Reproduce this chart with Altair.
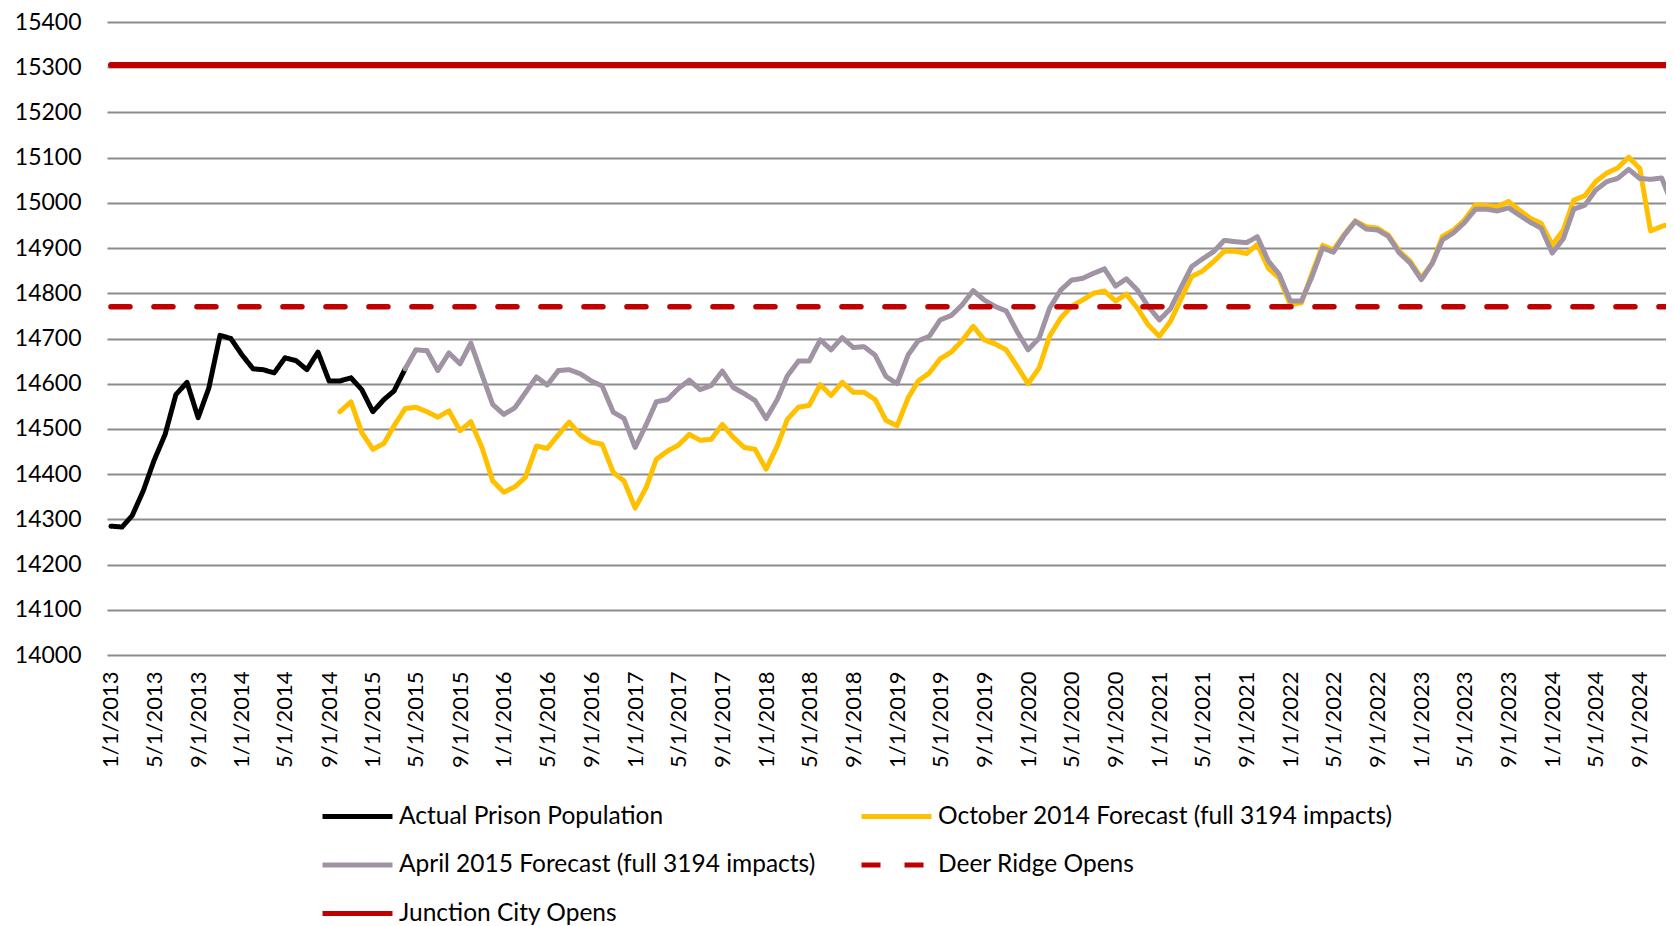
import altair as alt
import pandas as pd

# Monthly categories 1/1/2013 .. 12/1/2024
months = [f"{y}-{m:02d}-01" for y in range(2013, 2025) for m in range(1, 13)]

ACTUAL = "Actual Prison Population"
OCT = "October 2014 Forecast (full 3194 impacts)"
APR = "April 2015 Forecast (full 3194 impacts)"
DEER = "Deer Ridge Opens"
JUNC = "Junction City Opens"

# drawing order (later on top)
draw_order = [ACTUAL, OCT, APR, DEER, JUNC]
# legend order (legend fills column by column: 3 rows x 2 columns)
legend_order = [ACTUAL, APR, JUNC, OCT, DEER]
colors = {ACTUAL: "#000000", OCT: "#FFC000", APR: "#A093A3", DEER: "#C00000", JUNC: "#C00000"}
dashes = {ACTUAL: [1, 0], OCT: [1, 0], APR: [1, 0], DEER: [19, 24], JUNC: [1, 0]}
widths = {ACTUAL: 5, OCT: 5, APR: 5, DEER: 5.5, JUNC: 6}

# Actual: 1/2013 .. 4/2015
actual = [14285, 14283, 14308, 14363, 14430, 14488, 14576, 14603, 14525, 14591,
          14707, 14700, 14664, 14633, 14631, 14624, 14657, 14651, 14631, 14670,
          14606, 14606, 14613, 14587, 14538, 14565, 14584, 14633]
actual_start = 0

# October 2014 forecast: 10/2014 .. 12/2024
oct2014 = [14538, 14560, 14492, 14455, 14468, 14507, 14545, 14548, 14538, 14526,
           14540, 14496, 14516, 14459, 14385, 14360, 14372, 14393, 14462, 14457,
           14487, 14515, 14487, 14471, 14466, 14404, 14385, 14325, 14371, 14433,
           14451, 14464, 14488, 14475, 14477, 14510, 14482, 14459, 14455, 14411,
           14462, 14521, 14548, 14552, 14598, 14574, 14603, 14581, 14581, 14565,
           14519, 14507, 14569, 14606, 14624, 14655, 14670, 14695, 14727, 14697,
           14688, 14675, 14639, 14600, 14635, 14705, 14745, 14771, 14785, 14800,
           14805, 14783, 14798, 14767, 14730, 14705, 14738, 14785, 14837, 14849,
           14870, 14893, 14893, 14888, 14908, 14855, 14834, 14775, 14779, 14841,
           14906, 14896, 14931, 14960, 14947, 14944, 14929, 14893, 14871, 14834,
           14867, 14926, 14940, 14962, 14995, 14994, 14992, 15003, 14984, 14966,
           14955, 14907, 14940, 15006, 15016, 15047, 15066, 15077, 15101, 15076,
           14938, 14948, 14955]
oct2014_start = 21

# April 2015 forecast: 4/2015 .. 12/2024
apr2015 = [14633, 14675, 14673, 14629, 14668, 14644, 14690, 14620, 14554, 14532,
           14547, 14580, 14615, 14597, 14629, 14631, 14622, 14606, 14595, 14537,
           14523, 14459, 14510, 14560, 14565, 14589, 14608, 14587, 14596, 14628,
           14592, 14578, 14563, 14523, 14565, 14617, 14650, 14650, 14697, 14675,
           14702, 14680, 14682, 14663, 14616, 14600, 14664, 14695, 14705, 14741,
           14751, 14774, 14806, 14785, 14771, 14761, 14716, 14675, 14701, 14767,
           14807, 14829, 14833, 14844, 14854, 14816, 14832, 14807, 14771, 14741,
           14766, 14811, 14859, 14876, 14892, 14917, 14914, 14912, 14925, 14871,
           14842, 14783, 14783, 14834, 14900, 14891, 14929, 14959, 14942, 14940,
           14926, 14889, 14867, 14830, 14867, 14918, 14934, 14956, 14986, 14986,
           14982, 14989, 14973, 14957, 14944, 14889, 14921, 14986, 14995, 15028,
           15047, 15054, 15074, 15054, 15052, 15055, 14995]
apr2015_start = 27

deer_ridge_level = 14770
junction_city_level = 15305

y_ticks = list(range(14000, 15401, 100))
x_tick_months = months[::4]

rows = []
def add(name, start, values):
    for k, v in enumerate(values):
        rows.append({"date": months[start + k], "series": name, "value": v})

add(ACTUAL, actual_start, actual)
add(OCT, oct2014_start, oct2014)
add(APR, apr2015_start, apr2015)
add(DEER, 0, [deer_ridge_level] * len(months))
add(JUNC, 0, [junction_city_level] * len(months))
df = pd.DataFrame(rows)

FONT = "Lato"

def dt(s):
    y, m, d = (int(p) for p in s.split("-"))
    return alt.DateTime(year=y, month=m, date=d, utc=True)

legend = alt.Legend(
    title=None, orient="none", legendX=236, legendY=780, columns=2,
    symbolType="M-3,0H3", symbolSize=544, symbolStrokeWidth=5,
    labelFont=FONT, labelFontSize=24.5, labelColor="#000000", labelOffset=27,
    labelLimit=1000, rowPadding=22.5, columnPadding=35, gridAlign="each",
)

x_enc = alt.X(
    "date:T",
    scale=alt.Scale(type="utc", domain=[dt("2012-12-21"), dt("2024-11-13")]),
    axis=alt.Axis(
        values=[dt(m) for m in x_tick_months],
        labelExpr="utcFormat(datum.value, '%-m/%-d/%Y')",
        labelAngle=270, labelFont=FONT, labelFontSize=22, labelColor="#000000",
        labelPadding=16, labelOverlap=False, grid=False, ticks=False,
        domain=False, title=None,
    ),
)
y_enc = alt.Y(
    "value:Q",
    scale=alt.Scale(domain=[14000, 15400], nice=False, zero=False),
    axis=alt.Axis(
        values=y_ticks, format="d", grid=True, gridColor="#8C8C8C", gridWidth=2,
        ticks=False, domain=False, labelFont=FONT, labelFontSize=23,
        labelColor="#000000", labelPadding=26, title=None,
    ),
)
color_enc = alt.Color("series:N",
                      scale=alt.Scale(domain=legend_order,
                                      range=[colors[n] for n in legend_order]),
                      legend=legend)
dash_enc = alt.StrokeDash("series:N",
                          scale=alt.Scale(domain=legend_order,
                                          range=[dashes[n] for n in legend_order]),
                          legend=legend)

layers = []
for name in draw_order:
    layers.append(
        alt.Chart(df)
        .transform_filter(alt.datum.series == name)
        .mark_line(strokeWidth=widths[name], strokeCap="round", strokeJoin="round", clip=True)
        .encode(x=x_enc, y=y_enc, color=color_enc, strokeDash=dash_enc)
    )

chart = (
    alt.layer(*layers)
    .properties(
        width=1559, height=633,
        autosize=alt.AutoSizeParams(type="none"),
        padding={"left": 99, "top": 14, "right": 0, "bottom": 274},
        background="white",
    )
    .configure_view(stroke=None)
)

chart.save("out.html", embed_options={"renderer": "svg", "actions": False})
